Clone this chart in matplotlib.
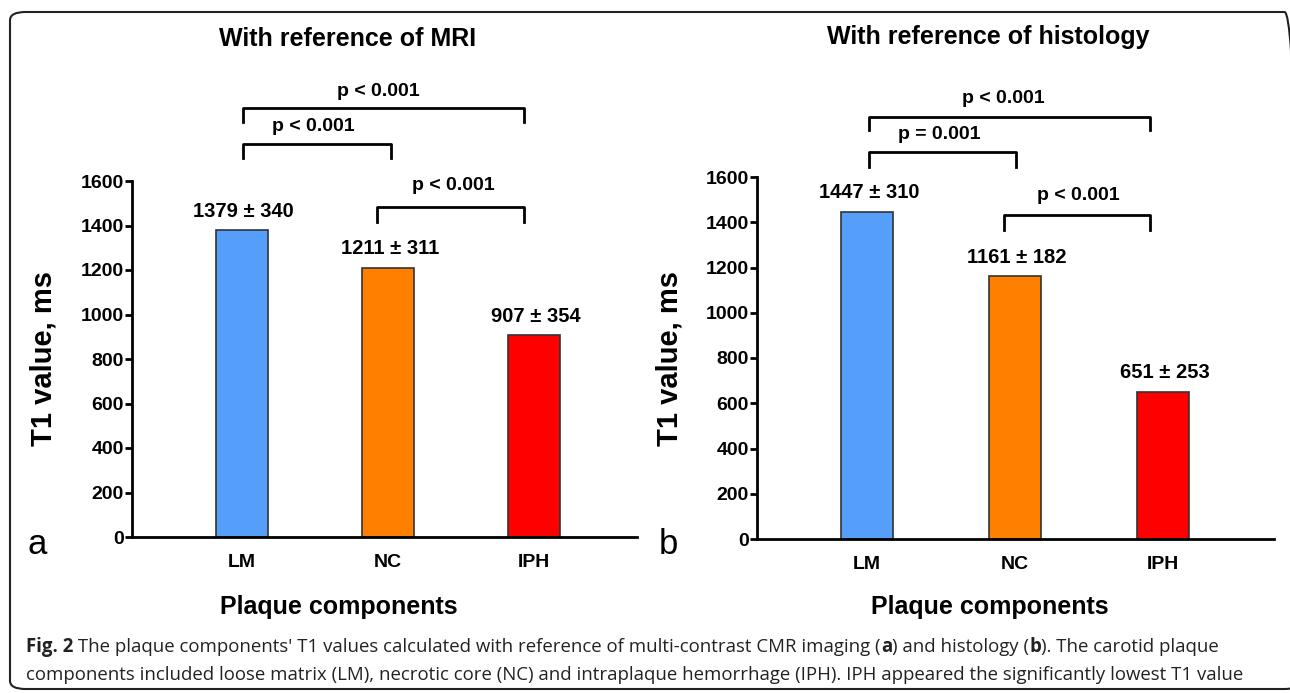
import matplotlib
matplotlib.use("Agg")
import matplotlib.pyplot as plt
from matplotlib.patches import FancyBboxPatch

# data
components = ['LM', 'NC', 'IPH']
mri_mean = [1379, 1211, 907]
mri_sd = [340, 311, 354]
hist_mean = [1447, 1161, 651]
hist_sd = [310, 182, 253]
# comparisons: (bar i, bar j, label)
mri_p = [(0, 2, 'p < 0.001'), (0, 1, 'p < 0.001'), (1, 2, 'p < 0.001')]
hist_p = [(0, 2, 'p < 0.001'), (0, 1, 'p = 0.001'), (1, 2, 'p < 0.001')]
yticks = [0, 200, 400, 600, 800, 1000, 1200, 1400, 1600]

colors = ['#559ffb', '#ff8000', '#ff0000']
W, H = 1290, 693
bold_font = 'Liberation Sans'

fig = plt.figure(figsize=(W / 100, H / 100), dpi=100)


def px_axes(l, r, top, bottom):
    return fig.add_axes([l / W, 1 - bottom / H, (r - l) / W, (bottom - top) / H])


def panel(ax, means, sds, pvals, xlim, width, brackets, label_off):
    x = range(len(components))
    ax.bar(x, means, width=width, color=colors, edgecolor='#333333', linewidth=1.2)
    ax.set_xlim(*xlim)
    ax.set_ylim(0, 1600)
    ax.set_yticks(yticks)
    ax.set_xticks(list(x))
    ax.set_xticklabels(components, fontsize=14, fontweight='bold', family=bold_font)
    for lab in ax.get_yticklabels():
        lab.set_fontsize(14)
        lab.set_fontweight('bold')
        lab.set_family(bold_font)
    ax.tick_params(axis='x', length=0, pad=12)
    ax.tick_params(axis='y', length=5, width=2, pad=1)
    for s in ['top', 'right']:
        ax.spines[s].set_visible(False)
    ax.spines['left'].set_linewidth(2)
    ax.spines['bottom'].set_linewidth(2)
    ax.set_ylabel('T1 value, ms', fontsize=21, fontweight='bold', family=bold_font)
    for i, (m, s) in enumerate(zip(means, sds)):
        ax.annotate(f'{m} \u00b1 {s}', (i, m), xytext=(2, label_off), textcoords='offset pixels',
                    ha='center', va='center', fontsize=14.5, fontweight='bold', family=bold_font)
    for (i, j, txt), (x0, x1, yb, yd, yt, xt) in zip(pvals, brackets):
        ax.plot([x0, x0, x1, x1], [yd, yb, yb, yd], color='black', lw=2, clip_on=False)
        ax.text(xt, yt, txt, ha='center', va='center', fontsize=14, fontweight='bold', family=bold_font)


ax1 = px_axes(132, 637, 181, 537)
ax2 = px_axes(757, 1274, 177, 539)

# bracket layout: x0, x1, bar y, drop y, text y, text x
br1 = [(0.01, 1.935, 1928, 1865, 2004, 0.935),
       (0.01, 1.024, 1766, 1703, 1847, 0.49),
       (0.928, 1.935, 1483, 1416, 1578, 1.45)]
br2 = [(0.014, 1.91, 1865, 1808, 1945, 0.92),
       (0.014, 1.01, 1710, 1644, 1786, 0.49),
       (0.926, 1.91, 1432, 1366, 1520, 1.43)]

panel(ax1, mri_mean, mri_sd, mri_p, (-0.75, 2.705), 0.356, br1, 19)
panel(ax2, hist_mean, hist_sd, hist_p, (-0.743, 2.75), 0.35, br2, 19)
ax1.yaxis.set_label_coords(-0.147, 0.5)
ax2.yaxis.set_label_coords(-0.143, 0.5)

fig.text(348 / W, 1 - 39 / H, 'With reference of MRI', ha='center', va='center',
         fontsize=18, fontweight='bold', family=bold_font)
fig.text(988 / W, 1 - 37 / H, 'With reference of histology', ha='center', va='center',
         fontsize=18, fontweight='bold', family=bold_font)
fig.text(339 / W, 1 - 607 / H, 'Plaque components', ha='center', va='center',
         fontsize=18, fontweight='bold', family=bold_font)
fig.text(990 / W, 1 - 607 / H, 'Plaque components', ha='center', va='center',
         fontsize=18, fontweight='bold', family=bold_font)
fig.text(37 / W, 1 - 545 / H, 'a', ha='center', va='center', fontsize=25, family=bold_font)
fig.text(668 / W, 1 - 545 / H, 'b', ha='center', va='center', fontsize=25, family=bold_font)

# border
fig.patches.append(FancyBboxPatch((10 / W, 4 / H), 1290 / W, (H - 16) / H,
                                  boxstyle='round,pad=0,rounding_size=0.012',
                                  transform=fig.transFigure, fill=False,
                                  edgecolor='#222222', lw=1.5))

# caption with bold pieces
renderer = fig.canvas.get_renderer()
cap_size = 13.4
lines = [
    [('Fig. 2', 'bold'), (' The plaque components\' T1 values calculated with reference of multi-contrast CMR imaging (', 'normal'),
     ('a', 'bold'), (') and histology (', 'normal'), ('b', 'bold'), ('). The carotid plaque', 'normal')],
    [('components included loose matrix (LM), necrotic core (NC) and intraplaque hemorrhage (IPH). IPH appeared the significantly lowest T1 value', 'normal')],
]
for k, line in enumerate(lines):
    xpos = 26
    ypos = 647 + k * 28
    for txt, wt in line:
        t = fig.text(xpos / W, 1 - ypos / H, txt, ha='left', va='center', fontsize=cap_size,
                     fontweight=wt, family='Open Sans', color='#222222')
        xpos += t.get_window_extent(renderer).width

fig.savefig('out.png', dpi=100)
